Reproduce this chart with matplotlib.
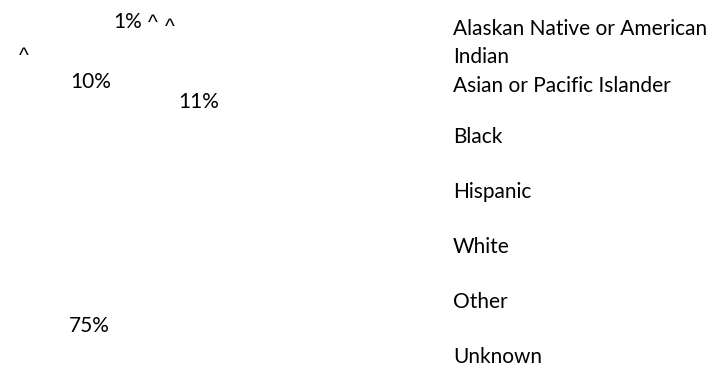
import matplotlib
matplotlib.use("Agg")
import matplotlib.pyplot as plt

plt.rcParams['font.family'] = ['Lato', 'DejaVu Sans']

# data (percent of total)
categories = ['Alaskan Native or American\nIndian', 'Asian or Pacific Islander',
              'Black', 'Hispanic', 'White', 'Other', 'Unknown']
values = [0.5, 1.2, 11.3, 0.6, 75.4, 0.6, 10.4]
# small shares are suppressed with "^"
pct_labels = ['^', '1%', '11%', '^', '75%', '^', '10%']

W, H = 723, 369
fig = plt.figure(figsize=(W / 100, H / 100), dpi=100)
fig.patch.set_facecolor('white')

# pie (slices drawn white like in the source)
cx, cy, r = 123, 203, 160
ax = fig.add_axes([(cx - r) / W, 1 - (cy + r) / H, 2 * r / W, 2 * r / H])
ax.pie(values, colors=['white'] * len(values), startangle=90, counterclock=False,
       wedgeprops=dict(linewidth=0))
ax.set_xlim(-1, 1)
ax.set_ylim(-1, 1)
ax.axis('off')

# data label spots (pixels: left, baseline)
label_pos = [(165, 33), (113, 28), (178, 108), (148, 29), (69, 332), (19, 62), (70, 88)]
fs = 15
for txt, (px, py) in zip(pct_labels, label_pos):
    fam = ['Liberation Sans'] if txt == '^' else ['Lato']
    fig.text(px / W, 1 - py / H, txt, ha='left', va='baseline', fontsize=fs,
             color='black', family=fam)

# legend text (markers are white, so only text shows)
legend_base = [35, 92, 143, 198, 253, 308, 363]
for name, py in zip(categories, legend_base):
    lines = name.split('\n')
    for k, line in enumerate(lines):
        fig.text(453 / W, 1 - (py + 28 * k) / H, line, ha='left', va='baseline',
                 fontsize=fs, color='black')

fig.savefig('out.png', dpi=100, facecolor='white')
